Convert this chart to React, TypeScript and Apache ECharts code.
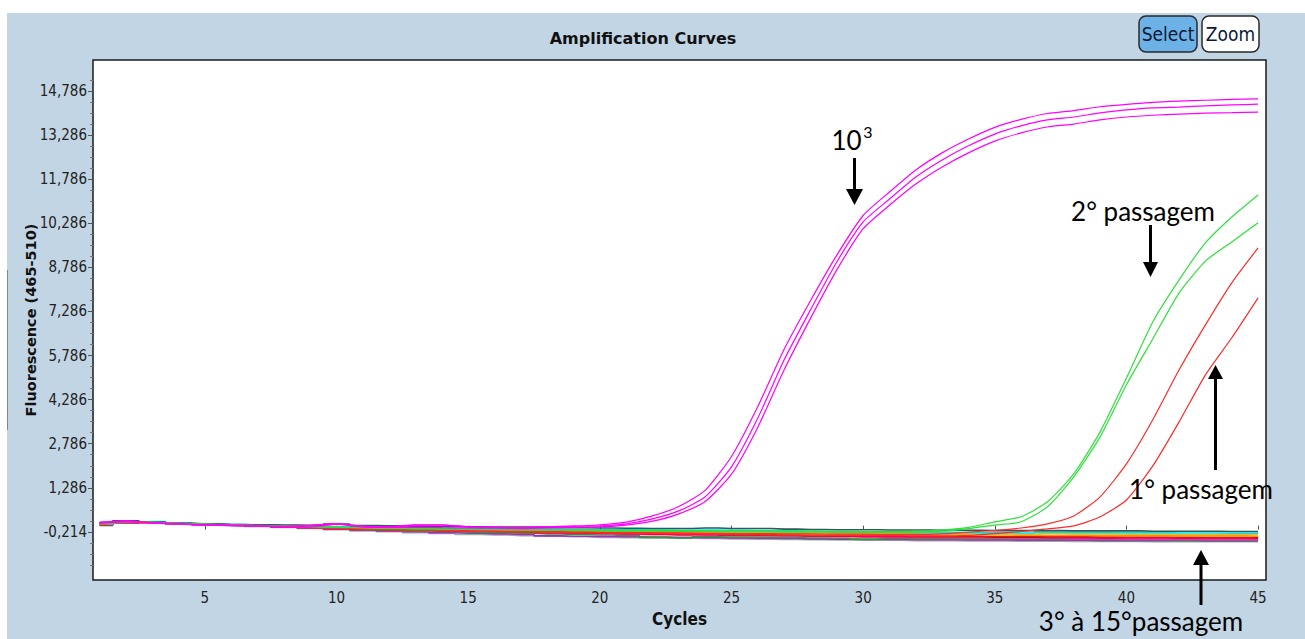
import React, { useEffect, useRef } from 'react';
import * as echarts from 'echarts';

const cycles = [1,2,3,4,5,6,7,8,9,10,11,12,13,14,15,16,17,18,19,20,21,22,23,24,25,26,27,28,29,30,31,32,33,34,35,36,37,38,39,40,41,42,43,44,45];

const xTickValues = [5, 10, 15, 20, 25, 30, 35, 40, 45];
const yTickValues = [-0.214, 1.286, 2.786, 4.286, 5.786, 7.286, 8.786, 10.286, 11.786, 13.286, 14.786];

// 10^3 standard (magenta)
const std103Top = [0.10,0.15,0.10,0.07,0.03,0.02,0.00,-0.02,0.01,0.07,-0.02,-0.03,0.03,0.03,-0.04,-0.05,-0.06,-0.04,-0.02,0.03,0.12,0.33,0.65,1.20,2.35,4.05,6.00,7.65,9.20,10.55,11.35,12.10,12.68,13.15,13.55,13.82,14.02,14.12,14.25,14.33,14.40,14.44,14.47,14.50,14.52];
const std103Mid = [0.12,0.16,0.09,0.06,0.02,0.01,-0.01,-0.03,0.00,0.06,-0.03,-0.04,0.02,0.02,-0.05,-0.06,-0.07,-0.03,-0.02,-0.01,0.06,0.23,0.50,0.98,2.00,3.66,5.64,7.34,8.97,10.33,11.11,11.86,12.44,12.92,13.32,13.60,13.80,13.90,14.04,14.14,14.21,14.24,14.28,14.31,14.34];
const std103Bot = [0.08,0.13,0.09,0.05,0.02,0.00,-0.02,-0.04,-0.05,0.04,-0.05,-0.06,-0.06,-0.07,-0.08,-0.09,-0.10,-0.08,-0.06,-0.04,0.02,0.15,0.40,0.82,1.75,3.35,5.30,7.05,8.70,10.10,10.90,11.62,12.20,12.68,13.08,13.36,13.56,13.66,13.80,13.90,13.96,14.00,14.03,14.05,14.07];

// 2° passagem (green)
const pass2A = [0.09,0.14,0.11,0.07,0.05,0.03,0.01,-0.01,-0.03,-0.05,-0.07,-0.08,-0.09,-0.10,-0.11,-0.12,-0.13,-0.14,-0.14,-0.15,-0.16,-0.16,-0.17,-0.17,-0.18,-0.18,-0.19,-0.19,-0.20,-0.20,-0.20,-0.19,-0.15,-0.06,0.13,0.30,0.81,1.76,3.19,5.02,6.93,8.36,9.62,10.50,11.25];
const pass2B = [0.05,0.11,0.12,0.08,0.05,0.02,0.00,-0.02,-0.04,-0.06,-0.08,-0.10,-0.11,-0.12,-0.13,-0.14,-0.15,-0.16,-0.17,-0.18,-0.19,-0.19,-0.20,-0.20,-0.21,-0.21,-0.22,-0.22,-0.23,-0.23,-0.23,-0.22,-0.19,-0.10,0.02,0.13,0.64,1.66,3.02,4.79,6.35,7.92,9.00,9.65,10.30];

// 1° passagem (red)
const pass1A = [0.07,0.12,0.10,0.06,0.04,0.02,0.00,-0.03,-0.05,-0.08,-0.10,-0.12,-0.14,-0.15,-0.17,-0.18,-0.19,-0.20,-0.21,-0.22,-0.23,-0.24,-0.25,-0.26,-0.27,-0.27,-0.28,-0.28,-0.29,-0.29,-0.30,-0.30,-0.28,-0.22,-0.16,-0.08,0.06,0.33,0.98,2.10,3.60,5.30,6.83,8.26,9.45];
const pass1B = [0.04,0.10,0.11,0.07,0.04,0.01,-0.01,-0.04,-0.07,-0.10,-0.12,-0.14,-0.16,-0.17,-0.19,-0.20,-0.21,-0.23,-0.24,-0.25,-0.26,-0.27,-0.28,-0.29,-0.30,-0.31,-0.32,-0.33,-0.33,-0.34,-0.34,-0.35,-0.35,-0.33,-0.27,-0.20,-0.11,-0.01,0.30,0.87,2.03,3.53,5.13,6.39,7.75];

// 3° à 15° passagem (flat, negative)
const flatTeal = [0.10,0.16,0.12,0.08,0.06,0.04,0.03,0.02,0.01,0.05,0.00,-0.01,-0.02,-0.03,-0.04,-0.05,-0.05,-0.06,-0.07,-0.08,-0.09,-0.10,-0.10,-0.08,-0.10,-0.10,-0.12,-0.13,-0.14,-0.14,-0.15,-0.15,-0.16,-0.16,-0.17,-0.17,-0.17,-0.18,-0.18,-0.18,-0.19,-0.19,-0.19,-0.20,-0.20];
const flatCyan = [0.05,0.12,0.14,0.09,0.06,0.04,0.02,0.00,-0.02,-0.04,-0.06,-0.07,-0.08,-0.09,-0.10,-0.11,-0.12,-0.12,-0.13,-0.14,-0.14,-0.15,-0.16,-0.15,-0.16,-0.17,-0.18,-0.19,-0.20,-0.21,-0.22,-0.23,-0.23,-0.24,-0.24,-0.25,-0.22,-0.23,-0.23,-0.24,-0.24,-0.25,-0.25,-0.26,-0.26];
const flatGold = [0.08,0.14,0.10,0.07,0.05,0.03,0.01,-0.02,-0.03,-0.05,-0.07,-0.09,-0.10,-0.11,-0.12,-0.13,-0.14,-0.15,-0.16,-0.17,-0.18,-0.19,-0.20,-0.21,-0.22,-0.23,-0.24,-0.25,-0.25,-0.26,-0.27,-0.27,-0.28,-0.28,-0.29,-0.29,-0.27,-0.28,-0.28,-0.29,-0.29,-0.30,-0.30,-0.30,-0.31];
const flatOrange = [0.10,0.15,0.11,0.07,0.05,0.03,0.01,-0.01,-0.04,-0.06,-0.09,-0.11,-0.12,-0.13,-0.15,-0.16,-0.17,-0.18,-0.19,-0.20,-0.21,-0.22,-0.23,-0.24,-0.25,-0.26,-0.27,-0.28,-0.29,-0.30,-0.30,-0.31,-0.31,-0.32,-0.32,-0.33,-0.33,-0.33,-0.34,-0.34,-0.34,-0.35,-0.35,-0.35,-0.36];
const flatRed = [0.02,0.10,0.09,0.06,0.04,0.02,0.00,-0.03,-0.06,-0.10,-0.13,-0.15,-0.16,-0.17,-0.18,-0.20,-0.21,-0.24,-0.25,-0.26,-0.27,-0.28,-0.30,-0.30,-0.31,-0.32,-0.33,-0.34,-0.35,-0.36,-0.36,-0.37,-0.37,-0.38,-0.38,-0.38,-0.39,-0.39,-0.39,-0.40,-0.40,-0.40,-0.41,-0.41,-0.41];
const flatDarkRed = [0.06,0.12,0.13,0.08,0.05,0.03,0.01,-0.02,-0.05,-0.08,-0.10,-0.12,-0.14,-0.16,-0.18,-0.19,-0.20,-0.22,-0.24,-0.26,-0.27,-0.29,-0.30,-0.25,-0.31,-0.32,-0.33,-0.34,-0.35,-0.36,-0.37,-0.37,-0.38,-0.38,-0.39,-0.39,-0.40,-0.40,-0.41,-0.41,-0.41,-0.42,-0.42,-0.42,-0.43];
const flatPink = [0.04,0.11,0.10,0.07,0.04,0.02,0.00,-0.02,-0.04,-0.06,-0.09,-0.11,-0.13,-0.16,-0.18,-0.20,-0.22,-0.24,-0.26,-0.28,-0.30,-0.31,-0.32,-0.33,-0.34,-0.35,-0.36,-0.37,-0.38,-0.39,-0.40,-0.41,-0.42,-0.43,-0.43,-0.44,-0.44,-0.45,-0.45,-0.46,-0.46,-0.46,-0.47,-0.47,-0.47];
const flatGreen = [0.07,0.13,0.11,0.07,0.05,0.02,0.00,-0.03,-0.06,-0.09,-0.12,-0.15,-0.18,-0.20,-0.22,-0.24,-0.26,-0.28,-0.30,-0.32,-0.34,-0.40,-0.42,-0.38,-0.39,-0.40,-0.41,-0.42,-0.43,-0.46,-0.44,-0.45,-0.45,-0.46,-0.46,-0.47,-0.47,-0.47,-0.48,-0.48,-0.48,-0.49,-0.49,-0.49,-0.50];
const flatPurple = [0.03,0.10,0.09,0.06,0.03,0.01,-0.02,-0.05,-0.08,-0.12,-0.15,-0.18,-0.21,-0.24,-0.26,-0.28,-0.30,-0.35,-0.36,-0.37,-0.38,-0.39,-0.40,-0.41,-0.42,-0.43,-0.44,-0.45,-0.46,-0.47,-0.47,-0.48,-0.48,-0.49,-0.49,-0.50,-0.50,-0.50,-0.51,-0.51,-0.51,-0.51,-0.52,-0.52,-0.52];
const flatGray = [0.00,0.08,0.08,0.05,0.02,0.00,-0.03,-0.06,-0.10,-0.14,-0.18,-0.21,-0.24,-0.27,-0.30,-0.32,-0.34,-0.36,-0.38,-0.40,-0.41,-0.42,-0.43,-0.44,-0.45,-0.46,-0.47,-0.48,-0.49,-0.50,-0.50,-0.51,-0.51,-0.52,-0.52,-0.53,-0.53,-0.54,-0.54,-0.54,-0.55,-0.55,-0.55,-0.55,-0.55];

const flatSeries = [
  { name: 'Gray', values: flatGray, color: '#a6a6a6' },
  { name: 'Purple', values: flatPurple, color: '#9a2fc4' },
  { name: 'Green', values: flatGreen, color: '#2e9a36' },
  { name: 'Pink', values: flatPink, color: '#ff22c8' },
  { name: 'DarkRed', values: flatDarkRed, color: '#8e1010' },
  { name: 'Red', values: flatRed, color: '#ee1111' },
  { name: 'Orange', values: flatOrange, color: '#ff8c1a' },
  { name: 'Gold', values: flatGold, color: '#d9c21a' },
  { name: 'Cyan', values: flatCyan, color: '#00e0ea' },
  { name: 'Teal', values: flatTeal, color: '#2d5a5a' },
];

const ampSeries = [
  { name: '1° passagem A', values: pass1A, color: '#ff2a2a' },
  { name: '1° passagem B', values: pass1B, color: '#ff2a2a' },
  { name: '2° passagem A', values: pass2A, color: '#2ee03a' },
  { name: '2° passagem B', values: pass2B, color: '#2ee03a' },
  { name: '10³ A', values: std103Top, color: '#ff00ff' },
  { name: '10³ B', values: std103Mid, color: '#ff00ff' },
  { name: '10³ C', values: std103Bot, color: '#ff00ff' },
];

const NARROW = "'Liberation Sans Narrow', 'DejaVu Sans Condensed', 'Liberation Sans', sans-serif";
const ANNOT = "Lato, 'Open Sans', sans-serif";

function arrow(x: number, y1: number, y2: number, headLen: number, halfW: number) {
  const dir = y2 > y1 ? 1 : -1;
  const baseY = y2 - dir * headLen;
  return [
    { type: 'line', z: 100, shape: { x1: x, y1: y1, x2: x, y2: baseY + dir * 1 }, style: { stroke: '#000', lineWidth: 3 } },
    { type: 'polygon', z: 100, shape: { points: [[x - halfW, baseY], [x + halfW, baseY], [x, y2]] }, style: { fill: '#000' } },
  ];
}

export default function App() {
  const ref = useRef<HTMLDivElement>(null);
  useEffect(() => {
    if (!ref.current) return;
    const chart = echarts.init(ref.current, null, { renderer: 'svg' });
    const minorTicks: number[] = [];
    for (let i = 0; i < yTickValues.length - 1; i++) {
      for (let k = 1; k <= 3; k++) minorTicks.push(yTickValues[i] + (k * 1.5) / 4);
    }
    minorTicks.push(yTickValues[yTickValues.length - 1] + 0.375, yTickValues[0] - 0.375, yTickValues[0] - 0.75, yTickValues[0] - 1.125);

    const series: any[] = [];
    flatSeries.forEach((s) => {
      series.push({
        name: s.name, type: 'line', yAxisIndex: 0, step: 'middle', symbol: 'none', z: 2,
        lineStyle: { width: 1.6, color: s.color }, data: cycles.map((c, i) => [c, s.values[i]]),
      });
    });
    ampSeries.forEach((s) => {
      series.push({
        name: s.name, type: 'line', yAxisIndex: 0, symbol: 'none', smooth: 0.2, z: 3,
        lineStyle: { width: 1.2, color: s.color }, data: cycles.map((c, i) => [c, s.values[i]]),
      });
    });

    const option: any = {
      animation: false,
      backgroundColor: '#c2d5e5',
      grid: { left: 93, top: 60, right: 39, bottom: 59, show: true, backgroundColor: '#ffffff', borderColor: '#1a1a1a', borderWidth: 1.5 },
      xAxis: {
        type: 'value', min: 0.75, max: 45.3,
        axisLine: { show: false }, splitLine: { show: false },
        axisTick: { show: true, customValues: xTickValues, length: 4, lineStyle: { color: '#555' } },
        axisLabel: { customValues: xTickValues, margin: 10, fontSize: 15, color: '#222', fontFamily: NARROW },
        name: 'Cycles', nameLocation: 'middle', nameGap: 30, nameMoveOverlap: false,
        nameTextStyle: { fontWeight: 'bold', fontSize: 17, color: '#111', fontFamily: NARROW },
      },
      yAxis: [
        {
          type: 'value', min: -1.85, max: 15.84, position: 'left', offset: 0,
          axisLine: { show: false }, splitLine: { show: false },
          axisTick: { show: true, customValues: minorTicks, length: 3, lineStyle: { color: '#777' } },
          axisLabel: {
            customValues: yTickValues, margin: 6, fontSize: 15, color: '#222', fontFamily: NARROW,
            formatter: (v: number) => v.toFixed(3).replace('.', ','),
          },
          name: 'Fluorescence (465-510)', nameLocation: 'middle', nameGap: 55, nameRotate: 90, nameMoveOverlap: false,
          nameTextStyle: { fontWeight: 'bold', fontSize: 14.5, color: '#111', fontFamily: "'DejaVu Sans', sans-serif" },
        },
        {
          type: 'value', min: -1.85, max: 15.84, position: 'left', offset: 0,
          axisLine: { show: false }, splitLine: { show: false }, axisLabel: { show: false },
          axisTick: { show: true, customValues: yTickValues, length: 5, lineStyle: { color: '#555' } },
        },
      ],
      series,
      graphic: [
        { type: 'rect', silent: true, shape: { x: 0, y: 0, width: 1305, height: 13 }, style: { fill: '#ffffff' } },
        { type: 'rect', silent: true, shape: { x: 0, y: 0, width: 7, height: 639 }, style: { fill: '#ffffff' } },
        { type: 'line', silent: true, shape: { x1: 7.5, y1: 270, x2: 7.5, y2: 430 }, style: { stroke: '#888', lineWidth: 1 } },
        { type: 'text', x: 643, y: 38, style: { text: 'Amplification Curves', font: "bold 16px 'DejaVu Sans', sans-serif", fill: '#111', textAlign: 'center', textVerticalAlign: 'middle' } },
        { type: 'rect', shape: { x: 1139, y: 16, width: 58, height: 36, r: 7 }, style: { fill: '#6cb2e6', stroke: '#2a2a2a', lineWidth: 1.5 } },
        { type: 'text', x: 1168, y: 34, style: { text: 'Select', font: `19px ${NARROW}`, fill: '#0b1a36', textAlign: 'center', textVerticalAlign: 'middle' } },
        { type: 'rect', shape: { x: 1202, y: 16, width: 57, height: 36, r: 7 }, style: { fill: '#ffffff', stroke: '#2a2a2a', lineWidth: 1.5 } },
        { type: 'text', x: 1230.5, y: 34, style: { text: 'Zoom', font: `19px ${NARROW}`, fill: '#0b1a36', textAlign: 'center', textVerticalAlign: 'middle' } },
        { type: 'text', z: 100, x: 846.5, y: 140, style: { text: '10', font: `26px ${ANNOT}`, fill: '#000', textAlign: 'center', textVerticalAlign: 'middle' } },
        { type: 'text', z: 100, x: 868, y: 131, style: { text: '3', font: `16px ${ANNOT}`, fill: '#000', textAlign: 'center', textVerticalAlign: 'middle' } },
        ...arrow(854.5, 158, 205, 16, 8.5),
        { type: 'text', z: 100, x: 1143, y: 211, style: { text: '2° passagem', font: `26px ${ANNOT}`, fill: '#000', textAlign: 'center', textVerticalAlign: 'middle' } },
        ...arrow(1150.5, 225, 277, 15, 7.5),
        { type: 'text', z: 100, x: 1201, y: 489, style: { text: '1° passagem', font: `26px ${ANNOT}`, fill: '#000', textAlign: 'center', textVerticalAlign: 'middle' } },
        ...arrow(1215.5, 470, 365, 14, 7.5),
        { type: 'text', z: 100, x: 1141, y: 621, style: { text: '3° à 15°passagem', font: `26px ${ANNOT}`, fill: '#000', textAlign: 'center', textVerticalAlign: 'middle' } },
        ...arrow(1201, 605, 550, 15, 8),
      ],
    };
    chart.setOption(option);
    return () => chart.dispose();
  }, []);
  return <div ref={ref} style={{ position: 'fixed', left: 0, top: 0, width: 1305, height: 639 }} />;
}
